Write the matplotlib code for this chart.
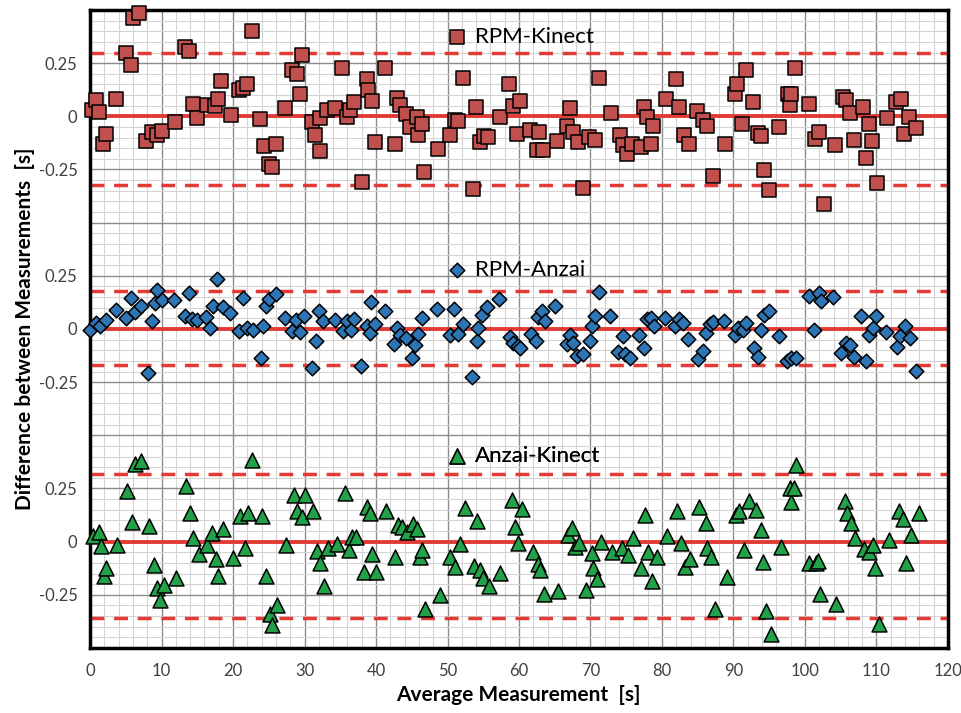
import matplotlib
matplotlib.use('Agg')
import matplotlib.pyplot as plt
from matplotlib.ticker import FixedLocator, MultipleLocator, FuncFormatter
import numpy as np

plt.rcParams['font.family'] = ['Lato', 'DejaVu Sans']

# RPM - Kinect differences
rk_x = [0.24, 0.84, 1.3, 1.86, 2.24, 3.64, 5.03, 5.73, 6.06, 6.9, 7.83, 8.6, 9.3, 10.0, 11.9,
        13.3, 13.85, 14.4, 14.9, 16.3, 17.5, 17.9, 18.3, 19.7, 20.9, 21.4, 21.9, 22.6, 23.8,
        24.3, 25.1, 25.4, 26.0, 27.2, 28.3, 28.9, 29.3, 29.7, 31.0, 31.5, 32.2, 32.2, 33.1,
        34.3, 35.3, 36.0, 36.4, 36.9, 38.0, 38.7, 38.9, 39.4, 39.9, 41.3, 42.7, 42.9, 43.4,
        44.2, 44.8, 45.7, 45.9, 46.4, 46.7, 48.7, 50.4, 51.0, 51.5, 52.1, 53.5, 54.0, 54.5,
        55.1, 55.7, 57.3, 58.6, 59.2, 59.7, 60.2, 61.5, 62.5, 62.8, 63.4, 65.3, 66.7, 67.1,
        67.6, 68.2, 69.0, 69.8, 70.6, 71.2, 72.8, 74.1, 74.6, 75.1, 75.8, 77.0, 77.5, 77.9,
        78.4, 78.8, 80.5, 81.9, 82.4, 83.1, 83.8, 84.9, 85.8, 86.3, 87.1, 88.8, 90.2, 90.5,
        91.2, 91.7, 92.8, 93.5, 93.9, 94.3, 95.0, 96.3, 97.6, 97.9, 98.1, 98.6, 100.6, 101.4,
        101.9, 102.7, 104.2, 105.3, 105.7, 106.3, 106.8, 108.1, 108.6, 109.0, 109.4, 110.1,
        111.5, 112.8, 113.4, 113.9, 114.6, 115.5]
rk_d = [0.028, 0.075, 0.02, -0.13, -0.085, 0.083, 0.30, 0.24, 0.46, 0.487, -0.117, -0.074, -0.09, -0.07, -0.027,
        0.327, 0.308, 0.06, -0.006, 0.052, 0.047, 0.083, 0.165, 0.005, 0.126, 0.135, 0.15, 0.40, -0.011,
        -0.14, -0.223, -0.24, -0.13, 0.041, 0.217, 0.198, 0.107, 0.29, -0.027, -0.09, -0.164, -0.006, 0.032,
        0.041, 0.225, -0.003, 0.028, 0.068, -0.31, 0.175, 0.123, 0.072, -0.121, 0.225, -0.132, 0.088, 0.052,
        0.013, -0.05, -0.003, -0.09, -0.035, -0.263, -0.156, -0.09, -0.019, -0.022, 0.181, -0.341, 0.044, -0.121,
        -0.094, -0.097, -0.003, 0.154, 0.047, -0.082, 0.072, -0.066, -0.157, -0.074, -0.157, -0.118, -0.047, 0.041,
        -0.074, -0.121, -0.336, -0.097, -0.113, 0.181, 0.016, -0.09, -0.137, -0.179, -0.129, -0.145, 0.044, -0.003,
        -0.129, -0.047, 0.083, 0.175, 0.044, -0.086, -0.129, 0.024, -0.019, -0.047, -0.283, -0.129, 0.107, 0.154,
        -0.035, 0.217, 0.068, -0.077, -0.094, -0.251, -0.346, -0.05, 0.107, 0.055, 0.107, 0.228, 0.057, -0.105,
        -0.074, -0.412, -0.134, 0.091, 0.075, 0.016, -0.113, 0.044, -0.195, -0.035, -0.118, -0.315,
        -0.006, 0.068, 0.083, -0.082, -0.003, -0.055]

# RPM - Anzai differences
ra_x = [0.0, 0.84, 1.4, 2.2, 3.7, 5.0, 5.7, 6.3, 7.1, 8.1, 8.6, 9.1, 9.4, 10.1, 11.7, 13.3, 13.85,
        14.2, 14.9, 16.2, 16.8, 17.2, 17.8, 18.6, 19.6, 20.9, 21.4, 21.9, 22.8, 23.9, 24.2, 24.6,
        25.1, 26.0, 27.2, 28.2, 28.8, 29.4, 29.9, 31.0, 31.6, 32.0, 32.6, 34.3, 35.4, 35.9, 36.5,
        36.9, 37.9, 38.7, 39.2, 39.3, 39.9, 41.3, 42.5, 42.9, 43.3, 44.2, 45.1, 45.5, 45.9, 46.5,
        48.5, 50.3, 50.9, 51.5, 52.2, 53.4, 54.1, 54.3, 54.8, 55.5, 57.2, 58.7, 59.2, 59.8, 60.2,
        61.7, 62.4, 62.6, 63.2, 63.6, 65.1, 66.7, 67.2, 67.6, 68.1, 69.0, 69.9, 70.2, 70.6, 71.2,
        72.7, 73.9, 74.5, 74.8, 75.5, 76.8, 77.5, 77.9, 78.4, 78.9, 80.4, 81.8, 82.4, 83.0, 83.7,
        85.1, 85.8, 86.2, 86.7, 87.2, 88.7, 90.2, 90.7, 91.3, 91.8, 92.9, 93.5, 93.8, 94.3, 94.9,
        96.3, 97.5, 98.1, 98.8, 100.6, 101.3, 102.0, 102.3, 103.9, 105.1, 105.7, 106.3, 106.8,
        107.9, 108.6, 109.0, 109.5, 110.0, 111.4, 112.9, 113.3, 114.0, 114.7, 115.6]
ra_d = [-0.005, 0.03, 0.014, 0.041, 0.088, 0.05, 0.145, 0.082, 0.108, -0.206, 0.038, 0.124, 0.182, 0.135, 0.137, 0.061, 0.168,
        0.046, 0.041, 0.057, 0.003, 0.108, 0.234, 0.101, 0.077, -0.009, 0.148, 0.006, -0.005, -0.138, 0.014, 0.108,
        0.143, 0.164, 0.05, -0.009, 0.041, -0.014, 0.061, -0.182, -0.057, 0.083, 0.038, 0.041, -0.009, 0.038, -0.006,
        0.046, -0.175, 0.014, -0.017, 0.129, 0.022, 0.085, -0.072, 0.003, -0.028, -0.044, -0.135, -0.075, -0.025, 0.05,
        0.093, -0.028, 0.093, -0.022, 0.022, -0.226, -0.057, 0.006, 0.066, 0.104, 0.14, -0.038, -0.064, -0.08, -0.091,
        -0.025, -0.057, 0.057, 0.085, 0.038, 0.108, -0.072, -0.028, -0.064, -0.127, -0.116, -0.057, 0.014, 0.061, 0.176,
        0.061, -0.107, -0.033, -0.116, -0.135, -0.027, -0.091, 0.046, 0.05, 0.014, 0.05, 0.014, 0.046, 0.03, -0.049,
        -0.143, -0.104, -0.017, 0.022, 0.034, 0.038, -0.028, 0.006, -0.006, 0.03, -0.088, -0.132, -0.006, 0.066, 0.085,
        -0.033, -0.151, -0.135, -0.138, 0.156, -0.006, 0.171, 0.132, 0.151, -0.112, -0.064, -0.075, -0.132,
        0.061, -0.151, -0.028, 0.006, 0.061, -0.013, -0.085, -0.033, 0.014, -0.041, -0.198]

# Anzai - Kinect differences
ak_x = [0.4, 1.2, 1.6, 2.0, 2.3, 3.8, 5.1, 5.8, 6.3, 7.1, 8.3, 9.0, 9.3, 9.8, 10.3, 12.0, 13.4, 14.0,
        14.4, 15.2, 16.3, 17.1, 17.6, 17.9, 18.6, 20.0, 21.0, 21.7, 22.1, 22.7, 24.0, 24.6, 25.2, 25.5,
        26.2, 27.4, 28.5, 29.0, 29.6, 30.1, 31.2, 31.8, 32.1, 32.7, 33.3, 34.6, 35.7, 36.2, 36.6, 37.2,
        38.3, 38.8, 39.1, 39.5, 40.0, 41.4, 42.7, 43.1, 43.6, 44.3, 45.2, 45.7, 46.1, 46.4, 46.9, 49.0,
        50.4, 51.0, 51.8, 52.4, 53.7, 54.1, 54.6, 55.0, 55.8, 57.4, 59.0, 59.4, 59.9, 60.4, 62.0, 62.6,
        62.9, 63.5, 65.4, 66.9, 67.4, 67.8, 68.4, 69.4, 70.2, 70.4, 70.9, 71.4, 73.0, 74.4, 75.3, 76.0,
        77.0, 77.6, 78.1, 78.6, 79.3, 80.7, 82.1, 82.6, 83.2, 83.9, 85.2, 86.2, 86.3, 86.8, 87.4, 89.1,
        90.3, 90.8, 91.5, 92.2, 93.1, 93.8, 94.1, 94.6, 95.3, 96.6, 97.9, 98.1, 98.4, 98.8, 100.6, 101.6,
        101.8, 102.1, 104.3, 105.6, 105.9, 106.4, 107.0, 108.2, 108.9, 109.5, 109.8, 110.3, 111.7, 113.2,
        113.7, 114.2, 114.9, 115.9]
ak_d = [0.027, 0.047, -0.02, -0.16, -0.126, -0.016, 0.24, 0.094, 0.366, 0.377, 0.075, -0.11, -0.22, -0.275, -0.204, -0.17, 0.263, 0.134,
        0.016, -0.06, -0.016, 0.039, -0.082, -0.16, 0.058, -0.079, 0.121, -0.028, 0.134, 0.385, 0.121, -0.16, -0.338, -0.39,
        -0.296, -0.016, 0.22, 0.142, 0.118, 0.22, 0.142, -0.044, -0.102, -0.209, -0.031, -0.013, 0.228, -0.039, 0.024, 0.024,
        -0.145, 0.165, 0.134, -0.058, -0.142, 0.142, -0.071, 0.079, 0.071, 0.047, 0.082, 0.06, -0.071, -0.039, -0.318, -0.252,
        -0.071, -0.118, -0.013, 0.16, -0.113, 0.098, -0.134, -0.17, -0.208, -0.149, 0.197, 0.071, -0.008, 0.154, -0.047, -0.107,
        -0.134, -0.248, -0.231, 0.032, 0.063, -0.024, -0.008, -0.228, -0.055, -0.123, -0.176, 0.0, -0.05, -0.031, -0.063, 0.016,
        -0.126, 0.126, -0.05, -0.185, -0.071, 0.028, 0.145, -0.008, -0.118, -0.082, 0.165, 0.086, -0.028, -0.071, -0.315, -0.165,
        0.126, 0.145, -0.039, 0.189, 0.15, 0.055, -0.094, -0.327, -0.432, -0.024, 0.251, 0.185, 0.251, 0.362, -0.102, -0.102,
        -0.091, -0.244, -0.291, 0.192, 0.134, 0.086, 0.016, -0.034, -0.05, -0.016, -0.126, -0.385, 0.008, 0.142,
        0.107, -0.102, 0.032, 0.134]

# bias and limits of agreement (mean, upper, lower) per pair
rk_lines = [0.0, 0.30, -0.325]
ra_lines = [0.0, 0.178, -0.17]
ak_lines = [0.0, 0.32, -0.36]

names = ['RPM-Kinect', 'RPM-Anzai', 'Anzai-Kinect']

fig = plt.figure(figsize=(9.62, 7.13), dpi=100)
ax = fig.add_axes([0.0936, 0.0912, 0.8918, 0.8948])

# each pair gets its own band, stacked one above the other
bands = [(rk_x, rk_d, rk_lines, 2, 's', '#c0504d', 105),
         (ra_x, ra_d, ra_lines, 1, 'D', '#2e75b6', 55),
         (ak_x, ak_d, ak_lines, 0, '^', '#21a148', 115)]

red = '#e23b35'
handles = []
for xs, ds, lines, off, mk, col, size in bands:
    ax.axhline(off + lines[0], color=red, lw=2.8, zorder=2)
    ax.axhline(off + lines[1], color=red, lw=2.5, ls=(0, (4, 2.8)), zorder=2)
    ax.axhline(off + lines[2], color=red, lw=2.5, ls=(0, (4, 2.8)), zorder=2)
    h = ax.scatter(xs, np.array(ds) + off, marker=mk, s=size, c=col,
                   edgecolors='black', linewidths=1.1, zorder=3, clip_on=False)
    handles.append(h)

ax.set_xlim(0, 120)
ax.set_ylim(-0.5, 2.5)

ax.xaxis.set_major_locator(MultipleLocator(10))
ax.xaxis.set_minor_locator(MultipleLocator(2))
ax.yaxis.set_major_locator(FixedLocator(np.arange(-0.5, 2.51, 0.25)))
ax.yaxis.set_minor_locator(MultipleLocator(0.05))

def ylab(v, pos):
    r = v - np.round(v)
    if abs(abs(r) - 0.5) < 1e-6:
        return ''
    if abs(r) < 1e-6:
        return '0'
    return '%g' % r

ax.yaxis.set_major_formatter(FuncFormatter(ylab))

ax.grid(which='major', color='#8c8c8c', lw=1.0, zorder=0)
ax.grid(which='minor', color='#d4d4d4', lw=0.8, zorder=0)
ax.set_axisbelow(True)
ax.tick_params(which='both', length=0, labelsize=12, labelcolor='#404040')
ax.tick_params(axis='y', pad=9)
ax.tick_params(axis='x', pad=11)

for sp in ax.spines.values():
    sp.set_linewidth(2.5)
    sp.set_color('black')

ax.set_xlabel('Average Measurement  [s]', fontsize=15, fontweight='bold')
ax.set_ylabel('Difference between Measurements  [s]', fontsize=15, fontweight='bold')
ax.xaxis.set_label_coords(0.4988, -0.058)
ax.yaxis.set_label_coords(-0.064, 0.5)

# small legends inside each band
leg_y = [0.958, 0.592, 0.301]
for h, name, ly in zip(handles, names, leg_y):
    lg = ax.legend([h], [name], loc='center left', bbox_to_anchor=(0.415, ly),
                   frameon=False, fontsize=16, handlelength=1.0, handletextpad=0.3,
                   borderpad=0, borderaxespad=0)
    ax.add_artist(lg)

fig.savefig('out.png', dpi=100)
